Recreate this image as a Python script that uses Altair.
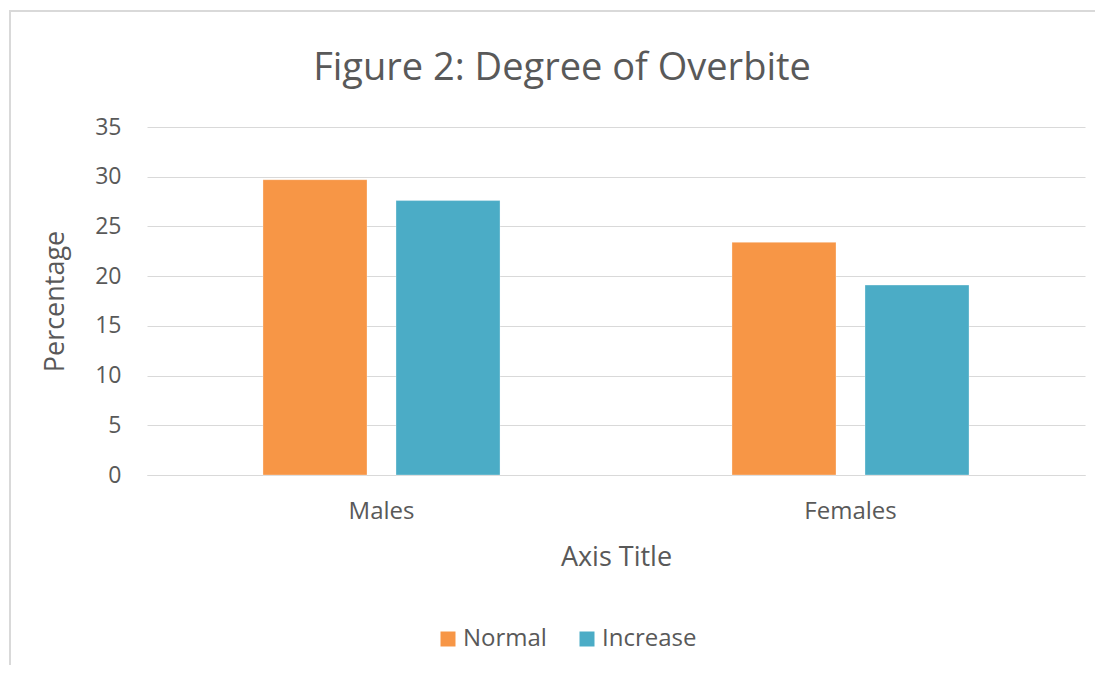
import altair as alt
import pandas as pd

title_text = "Figure 2: Degree of Overbite"
groups = ["Males", "Females"]
series = ["Normal", "Increase"]
normal_vals = [29.7, 23.4]
increase_vals = [27.6, 19.1]
colors = ["#F79646", "#4BACC6"]

rows = []
for g, n, i in zip(groups, normal_vals, increase_vals):
    rows.append({"group": g, "series": "Normal", "value": n})
    rows.append({"group": g, "series": "Increase", "value": i})
df = pd.DataFrame(rows)

FONT = "Open Sans"
TXT = "#595959"

bars = alt.Chart(df).mark_bar(stroke="white", strokeWidth=0.5, strokeOpacity=0.6).encode(
    x=alt.X("group:N", sort=groups,
            scale=alt.Scale(paddingInner=0, paddingOuter=0),
            axis=alt.Axis(title="Axis Title", labelAngle=0, ticks=False,
                          domainColor="#D9D9D9", labelPadding=24, titlePadding=21,
                          labelFontSize=24, titleFontSize=27, titleFontWeight="normal",
                          labelColor=TXT, titleColor=TXT, labelFont=FONT, titleFont=FONT)),
    xOffset=alt.XOffset("series:N", sort=series,
                        scale=alt.Scale(paddingInner=0.218, paddingOuter=0.872)),
    y=alt.Y("value:Q", scale=alt.Scale(domain=[0, 35]),
            axis=alt.Axis(title="Percentage", values=[0, 5, 10, 15, 20, 25, 30, 35],
                          ticks=False, domain=False, gridColor="#D9D9D9",
                          labelPadding=26, labelFontSize=23, titleFontSize=27,
                          titleFontWeight="normal", labelColor=TXT, titleColor=TXT,
                          labelFont=FONT, titleFont=FONT, titleX=-78, titleY=174)),
    color=alt.Color("series:N", sort=series,
                    scale=alt.Scale(domain=series, range=colors),
                    legend=alt.Legend(title=None, orient="none", direction="horizontal",
                                      legendX=289, legendY=500, symbolType="square",
                                      symbolSize=225, symbolStrokeWidth=0,
                                      labelFontSize=24, labelFont=FONT, labelColor=TXT,
                                      columnPadding=28, labelOffset=3)),
)

frame = alt.Chart(pd.DataFrame({"k": [0]})).mark_rect(
    fill=None, stroke="#D9D9D9", strokeWidth=2, clip=False
).encode(
    x=alt.value(-137), x2=alt.value(957), y=alt.value(-116), y2=alt.value(570)
)

title = alt.Chart(pd.DataFrame({"t": [title_text]})).mark_text(
    font=FONT, fontSize=38, color=TXT, align="center", baseline="alphabetic", clip=False
).encode(
    text="t:N", x=alt.value(415), y=alt.value(-47)
)

chart = alt.layer(frame, bars, title).properties(
    width=938, height=348,
    autosize=alt.AutoSizeParams(type="none"),
    padding={"left": 139, "top": 119, "right": 10, "bottom": 190},
).configure_view(stroke=None)

chart.save("out.html", embed_options={"renderer": "svg", "actions": False})
